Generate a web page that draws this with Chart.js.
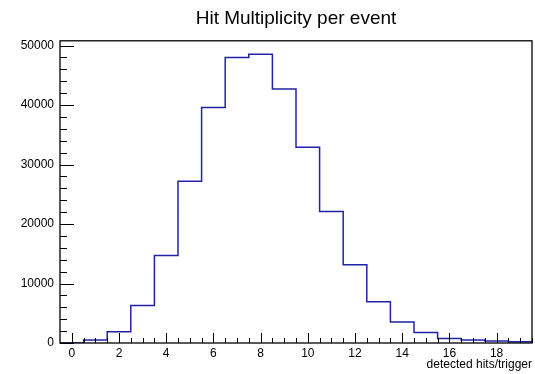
<!DOCTYPE html>
<html>
<head>
<meta charset="utf-8">
<script src="https://cdn.jsdelivr.net/npm/chart.js@4"></script>
<style>
  html, body { margin: 0; padding: 0; background: #fff; }
  #wrap { width: 535px; height: 374px; }
</style>
</head>
<body>
<div id="wrap"><canvas id="hits"></canvas></div>
<script>
// bin centres (one bin per hit count) and their entries
const binCenters = [0, 1, 2, 3, 4, 5, 6, 7, 8, 9, 10, 11, 12, 13, 14, 15, 16, 17, 18, 19];
const binCounts = [0, 500, 1900, 6300, 14700, 27200, 39600, 48000, 48550, 42700,
                   32900, 22100, 13150, 6950, 3550, 1750, 750, 500, 350, 200];
const xTickValues = [0, 2, 4, 6, 8, 10, 12, 14, 16, 18];
const yTickValues = [0, 10000, 20000, 30000, 40000, 50000];

const X_MIN = -0.5, X_MAX = 19.5, Y_MAX = 50800;
const FONT = "'Liberation Sans', Arial, Helvetica, sans-serif";

// step outline: each bin's low edge carries its count, last edge closes the bin
const stepPoints = binCenters.map((c, i) => ({ x: c - 0.5, y: binCounts[i] }));
stepPoints.push({ x: binCenters[binCenters.length - 1] + 0.5, y: binCounts[binCounts.length - 1] });

// ROOT-like frame with ticks pointing into the pad
const frameTicks = {
  id: 'frameTicks',
  afterDraw(chart) {
    const { ctx, chartArea: a, scales: { x, y } } = chart;
    ctx.save();
    ctx.strokeStyle = '#000';
    ctx.lineWidth = 1;
    ctx.beginPath();
    for (let v = 0; v <= X_MAX + 1e-6; v += 0.5) {
      const px = Math.round(x.getPixelForValue(v)) + 0.5;
      const len = (v % 2 === 0) ? 10 : 5;
      ctx.moveTo(px, a.bottom);
      ctx.lineTo(px, a.bottom - len);
    }
    for (let v = 0; v <= Y_MAX; v += 2000) {
      const py = Math.round(y.getPixelForValue(v)) + 0.5;
      const len = (v % 10000 === 0) ? 14 : 7;
      ctx.moveTo(a.left, py);
      ctx.lineTo(a.left + len, py);
    }
    ctx.stroke();
    ctx.lineWidth = 1.3;
    ctx.strokeRect(a.left, a.top, a.right - a.left, a.bottom - a.top);
    ctx.restore();
  }
};

new Chart(document.getElementById('hits'), {
  type: 'line',
  data: {
    datasets: [{
      label: 'hits',
      data: stepPoints,
      stepped: 'before',
      borderColor: '#2222a8',
      borderWidth: 1.5,
      pointRadius: 0,
      fill: false
    }]
  },
  options: {
    responsive: true,
    maintainAspectRatio: false,
    animation: false,
    layout: { padding: { left: 0, right: 3, top: 0, bottom: 0 } },
    plugins: {
      legend: { display: false },
      tooltip: { enabled: false },
      title: {
        display: true,
        fullSize: false,
        text: 'Hit Multiplicity per event',
        color: '#000',
        font: { family: FONT, size: 19, weight: 'normal' },
        padding: { top: 7, bottom: 11 }
      }
    },
    scales: {
      x: {
        type: 'linear',
        min: X_MIN,
        max: X_MAX,
        afterBuildTicks: s => { s.ticks = xTickValues.map(v => ({ value: v })); },
        afterFit: s => { s.height = 31; },
        grid: { display: false, drawTicks: false },
        border: { display: false },
        ticks: {
          color: '#000',
          padding: 3,
          maxRotation: 0,
          font: { family: FONT, size: 12 }
        },
        title: {
          display: true,
          text: 'detected hits/trigger',
          align: 'end',
          color: '#000',
          font: { family: FONT, size: 12 },
          padding: { top: 0, bottom: 2 }
        }
      },
      y: {
        type: 'linear',
        min: 0,
        max: Y_MAX,
        afterBuildTicks: s => { s.ticks = yTickValues.map(v => ({ value: v })); },
        afterFit: s => { s.width = 60; },
        grid: { display: false, drawTicks: false },
        border: { display: false },
        ticks: {
          color: '#000',
          padding: 6,
          font: { family: FONT, size: 12 },
          callback: v => String(v)
        }
      }
    }
  },
  plugins: [frameTicks]
});
</script>
</body>
</html>
